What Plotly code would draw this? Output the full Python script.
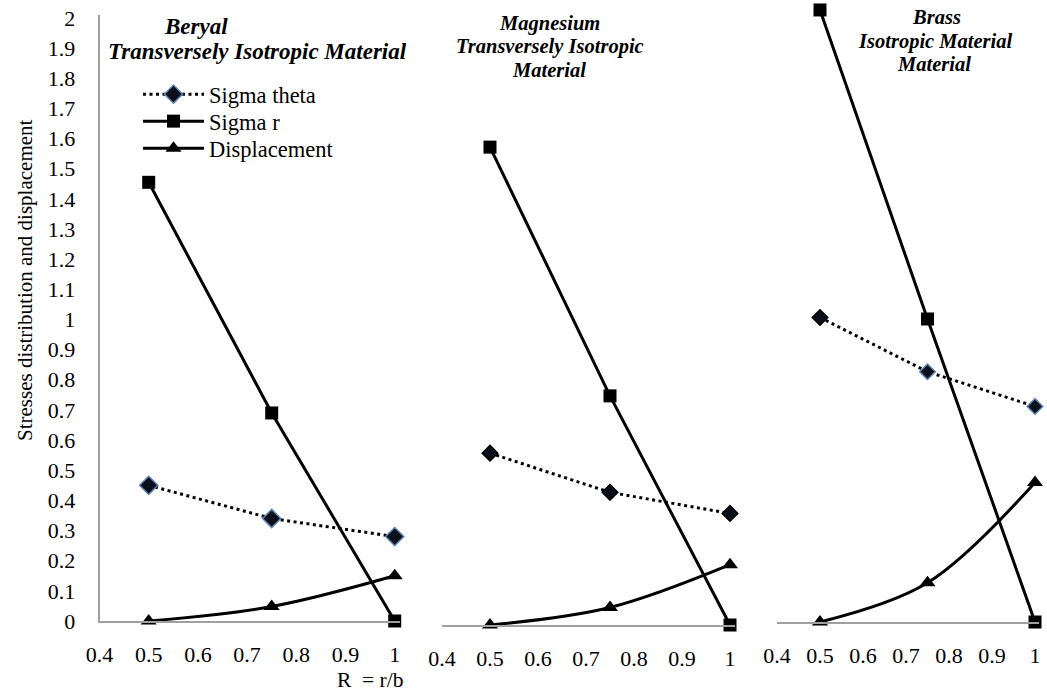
import plotly.graph_objects as go

# ---- data ----
R = [0.5, 0.75, 1.0]
panels = ["Beryal", "Magnesium", "Brass"]
sigma_theta = {
    "Beryal": [0.45, 0.34, 0.28],
    "Magnesium": [0.57, 0.44, 0.37],
    "Brass": [1.01, 0.83, 0.715],
}
sigma_r = {
    "Beryal": [1.455, 0.69, 0.0],
    "Magnesium": [1.585, 0.76, 0.0],
    "Brass": [2.03, 1.005, 0.0],
}
displacement = {
    "Beryal": [0.0, 0.048, 0.15],
    "Magnesium": [0.0, 0.058, 0.2],
    "Brass": [0.0, 0.13, 0.463],
}
y_ticks = [round(i * 0.1, 1) for i in range(21)]
y_tick_text = ["0" if v == 0 else ("1" if v == 1 else ("2" if v == 2 else f"{v:.1f}")) for v in y_ticks]
x_ticks = [0.4, 0.5, 0.6, 0.7, 0.8, 0.9, 1.0]
x_tick_text = ["0.4", "0.5", "0.6", "0.7", "0.8", "0.9", "1"]
titles = {
    "Beryal": ["Beryal", "Transversely Isotropic Material"],
    "Magnesium": ["Magnesium", "Transversely Isotropic", "Material"],
    "Brass": ["Brass", "Isotropic Material", "Material"],
}

# ---- layout geometry (pixels) ----
W, H = 1047, 691
FONT = "Liberation Serif"
geom = {
    "Beryal": dict(x0=99.5, dx=49.2, y0=621, ytop=2.01),
    "Magnesium": dict(x0=442, dx=48.0, y0=625, ytop=2.06),
    "Brass": dict(x0=777, dx=43.0, y0=622, ytop=2.06),
}
PX_PER_01 = 30.15
XMAX = 1.01

diamond_line = {
    "Beryal": ["#5b82b0"] * 3,
    "Magnesium": ["#000000"] * 3,
    "Brass": ["#000000", "#5b82b0", "#5b82b0"],
}
diamond_size = {"Beryal": 14, "Magnesium": 12, "Brass": 12}

fig = go.Figure()
layout = {}
for i, p in enumerate(panels):
    g = geom[p]
    n = "" if i == 0 else str(i + 1)
    xa, ya = "x" + n, "y" + n
    x_left = g["x0"]
    x_right = g["x0"] + (XMAX - 0.4) / 0.1 * g["dx"]
    y_bot = g["y0"]
    y_top = max(0.5, g["y0"] - g["ytop"] / 0.1 * PX_PER_01)
    layout["xaxis" + n] = dict(
        domain=[x_left / W, min(1, x_right / W)], range=[0.4, XMAX], anchor=ya,
        tickvals=x_ticks, ticktext=x_tick_text, showgrid=False, zeroline=False,
        showline=True, linecolor="#a0a0a0", linewidth=1.5, ticks="", automargin=False,
        tickfont=dict(family=FONT, size=22, color="black"), ticklabelstandoff=13,
    )
    layout["yaxis" + n] = dict(
        domain=[(H - y_bot) / H, min(1, (H - y_top) / H)],
        range=[0, (g["y0"] - y_top) / PX_PER_01 * 0.1], anchor=xa,
        tickvals=y_ticks, ticktext=y_tick_text, showgrid=False, zeroline=False,
        showline=(i == 0), linecolor="#a0a0a0", linewidth=1.5, ticks="", automargin=False,
        showticklabels=(i == 0),
        tickfont=dict(family=FONT, size=22, color="black"), ticklabelstandoff=18,
    )
    show = i == 0
    fig.add_trace(go.Scatter(
        x=R, y=sigma_theta[p], xaxis=xa, yaxis=ya, name="Sigma theta",
        mode="lines+markers", showlegend=show, legend="legend", cliponaxis=False,
        line=dict(color="black", width=3, dash="3px,3.5px"),
        marker=dict(symbol="diamond", size=diamond_size[p], color="#0a0f1a",
                    line=dict(color=diamond_line[p], width=1.5)),
    ))
    fig.add_trace(go.Scatter(
        x=R, y=sigma_r[p], xaxis=xa, yaxis=ya, name="Sigma r",
        mode="lines+markers", showlegend=show, legend="legend2", cliponaxis=False,
        line=dict(color="black", width=3),
        marker=dict(symbol="square", size=13, color="black"),
    ))
    fig.add_trace(go.Scatter(
        x=R, y=displacement[p], xaxis=xa, yaxis=ya, name="Displacement",
        mode="lines+markers", showlegend=show, legend="legend3", cliponaxis=False,
        line=dict(color="black", width=3, shape="spline"),
        marker=dict(symbol="triangle-up", size=14, color="black"),
    ))

annotations = []
title_pos = {
    "Beryal": [(196, 27), (257, 52)],
    "Magnesium": [(549, 23), (550, 47), (549, 70)],
    "Brass": [(936, 17), (935, 42), (934, 64)],
}
title_size = {"Beryal": 23, "Magnesium": 20.5, "Brass": 20.5}
for p in panels:
    for txt, (cx, cy) in zip(titles[p], title_pos[p]):
        annotations.append(dict(
            text=txt, x=cx / W, y=1 - cy / H, xref="paper", yref="paper",
            xanchor="center", yanchor="middle", showarrow=False,
            font=dict(family=FONT, size=title_size[p], color="black",
                      weight="bold", style="italic"),
        ))
annotations.append(dict(
    text="Stresses distribution and displacement", x=25 / W, y=1 - 280 / H,
    xref="paper", yref="paper", xanchor="center", yanchor="middle",
    textangle=-90, showarrow=False, font=dict(family=FONT, size=21, color="black"),
))
annotations.append(dict(
    text="R&nbsp; = r/b", x=370 / W, y=1 - 680 / H, xref="paper", yref="paper",
    xanchor="center", yanchor="middle", showarrow=False,
    font=dict(family=FONT, size=21.5, color="black"),
))


def legend_box(center_y):
    return dict(x=138 / W, y=1 - (center_y - 22) / H, xanchor="left", yanchor="top",
                bgcolor="rgba(0,0,0,0)", itemwidth=61,
                font=dict(family=FONT, size=22.5, color="black"))


fig.update_layout(
    width=W, height=H, margin=dict(l=0, r=0, t=0, b=0, autoexpand=False),
    paper_bgcolor="white", plot_bgcolor="white",
    annotations=annotations,
    legend=legend_box(95), legend2=legend_box(122), legend3=legend_box(149),
    **layout,
)
fig.write_html(
    "out.html",
    config={"responsive": False, "displayModeBar": False},
    post_script="document.body.style.margin='0';document.body.style.overflow='hidden';",
)
